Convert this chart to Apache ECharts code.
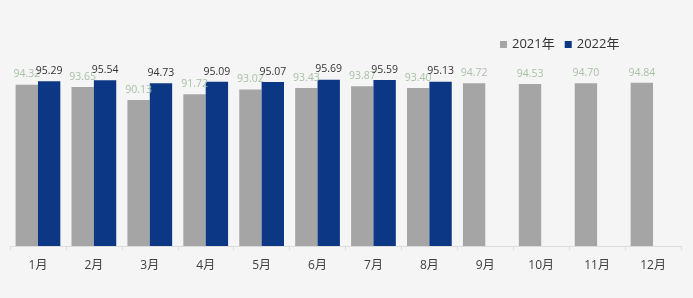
<!DOCTYPE html>
<html><head><meta charset="utf-8">
<script src="https://cdn.jsdelivr.net/npm/echarts@6/dist/echarts.min.js"></script>
<style>html,body{margin:0;padding:0;background:#f5f5f5;}#c{width:693px;height:298px;}</style>
</head><body><div id="c"></div>
<script>
const categories = ['1月','2月','3月','4月','5月','6月','7月','8月','9月','10月','11月','12月'];
const values2021 = [94.32, 93.65, 90.13, 91.72, 93.02, 93.43, 93.87, 93.40, 94.72, 94.53, 94.70, 94.84];
const values2022 = [95.29, 95.54, 94.73, 95.09, 95.07, 95.69, 95.59, 95.13, null, null, null, null];
const seriesNames = ['2021年', '2022年'];

const FONT = '"Open Sans","Noto Sans CJK SC",sans-serif';
const chart = echarts.init(document.getElementById('c'));
chart.setOption({
  backgroundColor: '#f5f5f5',
  animation: false,
  textStyle: { fontFamily: FONT },
  legend: {
    data: seriesNames,
    left: 495, top: 33,
    icon: 'rect', itemWidth: 7, itemHeight: 7, itemGap: 10,
    textStyle: { fontSize: 13, color: '#333', fontFamily: FONT }
  },
  grid: { left: 10, right: 12, top: 64, bottom: 52, containLabel: false },
  xAxis: {
    type: 'category', data: categories,
    axisLine: { lineStyle: { color: '#dcdcdc' } },
    axisTick: { show: true, length: 4, lineStyle: { color: '#dcdcdc' } },
    axisLabel: { color: '#404040', fontSize: 12, margin: 14, fontFamily: FONT }
  },
  yAxis: { type: 'value', min: 50, max: 100, show: false, splitLine: { show: false } },
  series: [
    {
      name: seriesNames[0], type: 'bar', data: values2021,
      barGap: 0, barCategoryGap: '20%',
      itemStyle: { color: '#a5a5a5' },
      label: { show: true, position: 'top', distance: 5, fontSize: 10.5, color: '#a9c1a6', fontFamily: FONT,
        formatter: p => p.value.toFixed(2) }
    },
    {
      name: seriesNames[1], type: 'bar', data: values2022,
      barGap: 0, barCategoryGap: '20%',
      itemStyle: { color: '#0b3784' },
      label: { show: true, position: 'top', distance: 5, fontSize: 10.5, color: '#333', fontFamily: FONT,
        formatter: p => p.value.toFixed(2) }
    }
  ]
});
</script></body></html>
